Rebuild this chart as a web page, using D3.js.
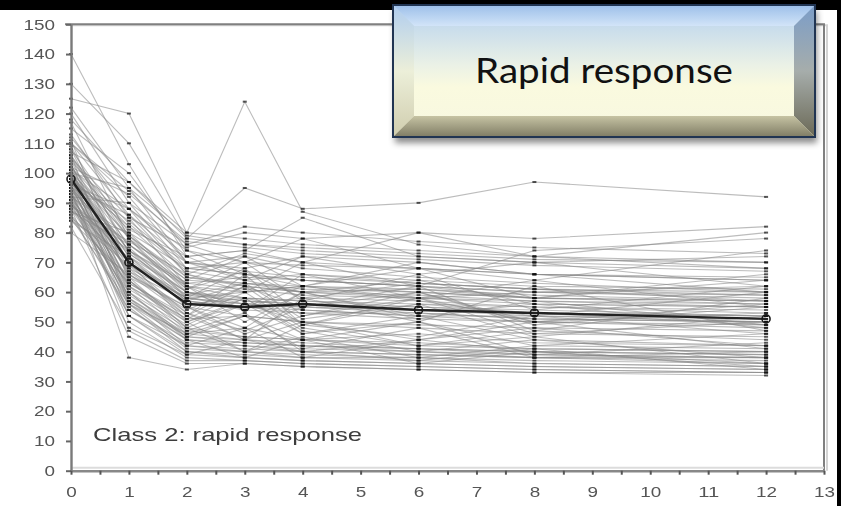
<!DOCTYPE html>
<html>
<head>
<meta charset="utf-8">
<script src="https://cdn.jsdelivr.net/npm/d3@7"></script>
<style>
  html, body { margin: 0; padding: 0; background: #000; }
  svg { display: block; }
  .axis text { font-family: Arial, "Liberation Sans", sans-serif; fill: #555; }
</style>
</head>
<body>
<div id="chart"></div>
<script>
// observation times (weeks)
const times = [0, 1, 2, 3, 4, 6, 8, 12]

// individual trajectories, one array per patient, values at each time above
const subjects = [
  [140, 103, 72, 64, 60, 58, 56, 55],
  [125, 120, 80, 124, 87, 76, 72, 80],
  [118, 97, 78, 95, 88, 90, 97, 92],
  [112, 88, 66, 62, 60, 61, 58, 57],
  [110, 92, 70, 68, 72, 70, 66, 64],
  [108, 80, 62, 58, 57, 55, 54, 52],
  [106, 75, 58, 55, 54, 52, 50, 48],
  [105, 85, 75, 80, 78, 80, 78, 82],
  [104, 70, 50, 56, 46, 52, 44, 42],
  [103, 65, 48, 45, 44, 42, 41, 40],
  [102, 78, 60, 56, 58, 57, 55, 53],
  [101, 60, 45, 52, 41, 48, 38, 40],
  [100, 72, 55, 52, 50, 49, 48, 47],
  [100, 95, 79, 76, 74, 72, 70, 68],
  [99, 68, 52, 44, 50, 42, 47, 44],
  [98, 58, 42, 40, 38, 38, 36, 35],
  [98, 82, 65, 62, 60, 59, 57, 56],
  [97, 74, 57, 55, 56, 54, 53, 51],
  [96, 55, 40, 38, 37, 36, 35, 34],
  [96, 66, 54, 62, 55, 60, 50, 53],
  [95, 86, 70, 72, 68, 65, 63, 60],
  [95, 62, 46, 44, 43, 41, 40, 39],
  [94, 50, 38, 37, 36, 35, 34, 33],
  [94, 76, 61, 70, 57, 66, 54, 62],
  [93, 70, 56, 58, 54, 52, 52, 50],
  [92, 64, 50, 58, 46, 50, 42, 46],
  [92, 90, 76, 82, 80, 77, 75, 73],
  [91, 57, 44, 42, 40, 39, 38, 36],
  [90, 68, 58, 60, 62, 60, 58, 56],
  [90, 52, 40, 39, 38, 37, 36, 35],
  [89, 74, 63, 65, 64, 62, 60, 58],
  [88, 60, 48, 40, 45, 38, 42, 41],
  [88, 45, 36, 36, 35, 34, 33, 32],
  [87, 80, 68, 70, 66, 64, 62, 61],
  [86, 63, 52, 66, 49, 58, 46, 50],
  [85, 56, 44, 43, 42, 40, 39, 38],
  [84, 72, 60, 57, 56, 55, 53, 52],
  [82, 48, 39, 38, 37, 36, 35, 34],
  [80, 66, 55, 46, 52, 60, 49, 55],
  [115, 100, 74, 70, 69, 68, 66, 65],
  [120, 90, 68, 66, 64, 62, 74, 78],
  [113, 85, 62, 60, 62, 58, 60, 62],
  [109, 73, 59, 63, 60, 64, 56, 55],
  [107, 97, 80, 78, 76, 74, 72, 70],
  [104, 83, 67, 64, 66, 63, 61, 59],
  [102, 58, 46, 48, 44, 46, 43, 42],
  [100, 52, 42, 41, 40, 39, 38, 37],
  [99, 79, 64, 63, 61, 60, 58, 57],
  [97, 61, 49, 58, 47, 40, 44, 38],
  [96, 88, 72, 74, 70, 68, 66, 64],
  [94, 38, 34, 36, 35, 34, 33, 33],
  [93, 67, 53, 44, 58, 50, 62, 47],
  [91, 71, 57, 55, 53, 53, 51, 50],
  [89, 59, 47, 53, 40, 44, 50, 41],
  [87, 76, 62, 54, 66, 58, 64, 55],
  [85, 69, 58, 56, 55, 54, 52, 51],
  [100, 81, 72, 74, 85, 72, 70, 72],
  [110, 86, 66, 73, 70, 80, 72, 68],
  [98, 63, 51, 52, 50, 48, 46, 45],
  [95, 73, 60, 58, 57, 56, 55, 54],
  [130, 110, 78, 76, 75, 73, 71, 70],
  [122, 95, 70, 67, 65, 63, 61, 60],
  [117, 78, 58, 56, 55, 53, 51, 50],
  [111, 64, 47, 45, 44, 43, 41, 40],
  [106, 56, 41, 40, 39, 38, 37, 36],
  [103, 62, 50, 40, 49, 56, 45, 52],
  [101, 76, 63, 61, 59, 58, 57, 55],
  [97, 84, 68, 66, 64, 62, 60, 59],
  [95, 47, 37, 37, 36, 35, 34, 33],
  [93, 58, 45, 44, 42, 41, 40, 39],
  [92, 79, 65, 63, 62, 61, 59, 57],
  [90, 62, 51, 60, 48, 42, 45, 36],
  [88, 70, 59, 57, 56, 54, 53, 52],
  [86, 54, 43, 42, 41, 40, 38, 38],
  [84, 65, 55, 48, 60, 51, 57, 49],
  [102, 93, 77, 75, 73, 71, 69, 67],
  [99, 72, 57, 54, 53, 51, 50, 49],
  [96, 57, 45, 43, 42, 41, 39, 38],
  [108, 69, 53, 47, 55, 62, 47, 58],
  [100, 66, 52, 62, 49, 45, 52, 46],
  [105, 78, 64, 72, 62, 68, 58, 64],
  [99, 74, 62, 50, 60, 52, 56, 48],
  [91, 54, 42, 48, 38, 44, 40, 36],
  [95, 60, 44, 38, 44, 36, 40, 35],
  [102, 82, 70, 64, 72, 66, 70, 62],
  [110, 94, 76, 70, 78, 68, 64, 74],
  [98, 70, 58, 68, 52, 58, 50, 56],
  [93, 56, 46, 52, 44, 50, 39, 43],
  [101, 88, 74, 66, 62, 70, 66, 60],
  [96, 64, 48, 56, 50, 44, 48, 42],
  [89, 77, 66, 60, 70, 62, 58, 66],
  [106, 79, 61, 67, 58, 63, 61, 57],
  [92, 52, 39, 44, 40, 37, 41, 34],
  [100, 74, 60, 54, 62, 57, 52, 60],
  [97, 67, 57, 63, 51, 56, 53, 49]
]

// class mean trajectory
const meanValues = [98, 70, 56, 55, 56, 54, 53, 51]

const yTickValues = [0, 10, 20, 30, 40, 50, 60, 70, 80, 90, 100, 110, 120, 130, 140, 150]
const xTickValues = [0, 0.5, 1, 1.5, 2, 2.5, 3, 3.5, 4, 4.5, 5, 5.5, 6, 6.5, 7, 7.5, 8, 8.5, 9, 9.5, 10, 10.5, 11, 11.5, 12, 12.5, 13]

const panelLabel = 'Class 2: rapid response'
const calloutText = 'Rapid response'

const width = 841, height = 506

let svg = d3.select('#chart').append('svg')
  .attr('width', width)
  .attr('height', height)

let defs = svg.append('defs')

defs.append('filter').attr('id', 'soft')
  .append('feGaussianBlur').attr('stdDeviation', 0.5)

defs.append('filter').attr('id', 'shadow')
  .attr('x', '-10%').attr('y', '-10%').attr('width', '120%').attr('height', '130%')
  .append('feGaussianBlur').attr('stdDeviation', 3)

function gradient(id, stops, horizontal){
  let g = defs.append('linearGradient').attr('id', id)
    .attr('x1', 0).attr('y1', 0)
    .attr('x2', horizontal ? 1 : 0).attr('y2', horizontal ? 0 : 1)
  stops.forEach(function(s){
    g.append('stop').attr('offset', s[0]).attr('stop-color', s[1])
  })
}
gradient('faceGrad', [[0, '#b4d0ef'], [0.45, '#eaf1e6'], [0.62, '#fafadf'], [1, '#f7f7e0']])
gradient('topGrad', [[0, '#9cbfe9'], [1, '#d2e4f8']])
gradient('leftGrad', [[0, '#b0cdef'], [0.5, '#ecefd9'], [1, '#d0cdae']])
gradient('rightGrad', [[0, '#7b9dc8'], [0.5, '#a6adab'], [1, '#6b6956']])
gradient('bottomGrad', [[0, '#c6c3a3'], [1, '#7e7b64']])

// white page behind the chart
svg.append('rect')
  .attr('x', 0).attr('y', 10)
  .attr('width', 837).attr('height', height - 10)
  .attr('fill', '#fff')

let x = d3.scaleLinear().domain([0, 13]).range([71, 824])
let y = d3.scaleLinear().domain([0, 150]).range([470.7, 24.3])

let chartArea = svg.append('g').attr('filter', 'url(#soft)')

// frame: top and right edges
chartArea.append('path')
  .attr('d', 'M' + x(0) + ',' + (y(150) + 1) + 'H' + (x(13) + 3) + 'V' + y(0))
  .attr('fill', 'none').attr('stroke', '#d4d4d4').attr('stroke-width', 2)
chartArea.append('path')
  .attr('d', 'M' + (x(0) - 6) + ',' + y(150) + 'H' + x(13) + 'V' + y(0))
  .attr('fill', 'none').attr('stroke', '#808080').attr('stroke-width', 2)
// light band above the x axis
chartArea.append('line')
  .attr('x1', x(0)).attr('x2', x(13))
  .attr('y1', y(0) - 3).attr('y2', y(0) - 3)
  .attr('stroke', '#dcdcdc').attr('stroke-width', 2)

let line = d3.line()
  .x(function(d, i){ return x(times[i]) })
  .y(function(d){ return y(d) })

chartArea.append('g').selectAll('path.subject')
  .data(subjects)
  .enter().append('path')
  .attr('class', 'subject')
  .attr('d', line)
  .attr('fill', 'none')
  .attr('stroke', '#858585')
  .attr('stroke-opacity', 0.55)
  .attr('stroke-width', 1.1)

// little dash markers at every observation
let points = []
subjects.forEach(function(s){
  s.forEach(function(v, i){ points.push({t: times[i], v: v}) })
})
chartArea.append('g').selectAll('rect.mark')
  .data(points)
  .enter().append('rect')
  .attr('class', 'mark')
  .attr('x', function(d){ return x(d.t) - 2 })
  .attr('y', function(d){ return y(d.v) - 1 })
  .attr('width', 4)
  .attr('height', 2)
  .attr('fill', '#111')
  .attr('fill-opacity', 0.7)

// mean trajectory
chartArea.append('path')
  .datum(meanValues)
  .attr('d', line)
  .attr('fill', 'none')
  .attr('stroke', '#222')
  .attr('stroke-width', 2.4)

chartArea.append('g').selectAll('circle.mean')
  .data(meanValues)
  .enter().append('circle')
  .attr('class', 'mean')
  .attr('cx', function(d, i){ return x(times[i]) })
  .attr('cy', function(d){ return y(d) })
  .attr('r', 4)
  .attr('fill', 'none')
  .attr('stroke', '#1a1a1a')
  .attr('stroke-width', 1.6)

// axes
let yAxis = chartArea.append('g')
  .attr('class', 'axis')
  .attr('transform', 'translate(' + x(0) + ',0)')
  .call(d3.axisLeft(y).tickValues(yTickValues).tickSize(5).tickSizeOuter(0).tickPadding(11))
yAxis.select('.domain').attr('stroke', '#7a7a7a').attr('stroke-width', 2.4)
yAxis.selectAll('.tick line').attr('stroke', '#666').attr('stroke-width', 2)
yAxis.selectAll('.tick text')
  .attr('font-size', 15)
  .attr('textLength', function(d){ return String(d).length * 10.5 })
  .attr('lengthAdjust', 'spacingAndGlyphs')

let xAxis = chartArea.append('g')
  .attr('class', 'axis')
  .attr('transform', 'translate(0,' + y(0) + ')')
  .call(d3.axisBottom(x).tickValues(xTickValues).tickSize(4).tickSizeOuter(0).tickPadding(12)
    .tickFormat(function(d){ return Number.isInteger(d) ? d : '' }))
xAxis.select('.domain').attr('stroke', '#888').attr('stroke-width', 2.6)
xAxis.selectAll('.tick line').attr('stroke', '#555').attr('stroke-width', 2)
xAxis.selectAll('.tick text')
  .attr('font-size', 15)
  .attr('textLength', function(d){ return Number.isInteger(d) ? String(d).length * 10.5 : null })
  .attr('lengthAdjust', 'spacingAndGlyphs')

chartArea.append('text')
  .attr('x', 93)
  .attr('y', 441)
  .attr('font-family', 'Arial, "Liberation Sans", sans-serif')
  .attr('font-size', 19)
  .attr('fill', '#3c3c3c')
  .attr('textLength', 269)
  .attr('lengthAdjust', 'spacingAndGlyphs')
  .text(panelLabel)

// bevelled callout box
let bx0 = 393, by0 = 5, bx1 = 815, by1 = 137, b = 21
let callout = svg.append('g')

callout.append('rect')
  .attr('x', bx0 + 2).attr('y', by0 + 6)
  .attr('width', bx1 - bx0).attr('height', by1 - by0)
  .attr('fill', '#000').attr('fill-opacity', 0.45)
  .attr('filter', 'url(#shadow)')

callout.append('rect')
  .attr('x', bx0).attr('y', by0)
  .attr('width', bx1 - bx0).attr('height', by1 - by0)
  .attr('fill', 'url(#faceGrad)')

let bevels = [
  {fill: 'url(#topGrad)', pts: [[bx0, by0], [bx1, by0], [bx1 - b, by0 + b], [bx0 + b, by0 + b]]},
  {fill: 'url(#leftGrad)', pts: [[bx0, by0], [bx0 + b, by0 + b], [bx0 + b, by1 - b], [bx0, by1]]},
  {fill: 'url(#rightGrad)', pts: [[bx1, by0], [bx1 - b, by0 + b], [bx1 - b, by1 - b], [bx1, by1]]},
  {fill: 'url(#bottomGrad)', pts: [[bx0, by1], [bx0 + b, by1 - b], [bx1 - b, by1 - b], [bx1, by1]]}
]
callout.selectAll('polygon.bevel')
  .data(bevels)
  .enter().append('polygon')
  .attr('class', 'bevel')
  .attr('points', function(d){ return d.pts.map(function(p){ return p.join(',') }).join(' ') })
  .attr('fill', function(d){ return d.fill })

callout.append('rect')
  .attr('x', bx0).attr('y', by0)
  .attr('width', bx1 - bx0).attr('height', by1 - by0)
  .attr('fill', 'none')
  .attr('stroke', '#203452')
  .attr('stroke-width', 2)

callout.append('text')
  .attr('x', (bx0 + bx1) / 2)
  .attr('y', 83)
  .attr('text-anchor', 'middle')
  .attr('font-family', 'Lato, "Open Sans", sans-serif')
  .attr('font-size', 35)
  .attr('fill', '#111')
  .attr('textLength', 258)
  .attr('lengthAdjust', 'spacingAndGlyphs')
  .text(calloutText)
</script>
</body>
</html>
